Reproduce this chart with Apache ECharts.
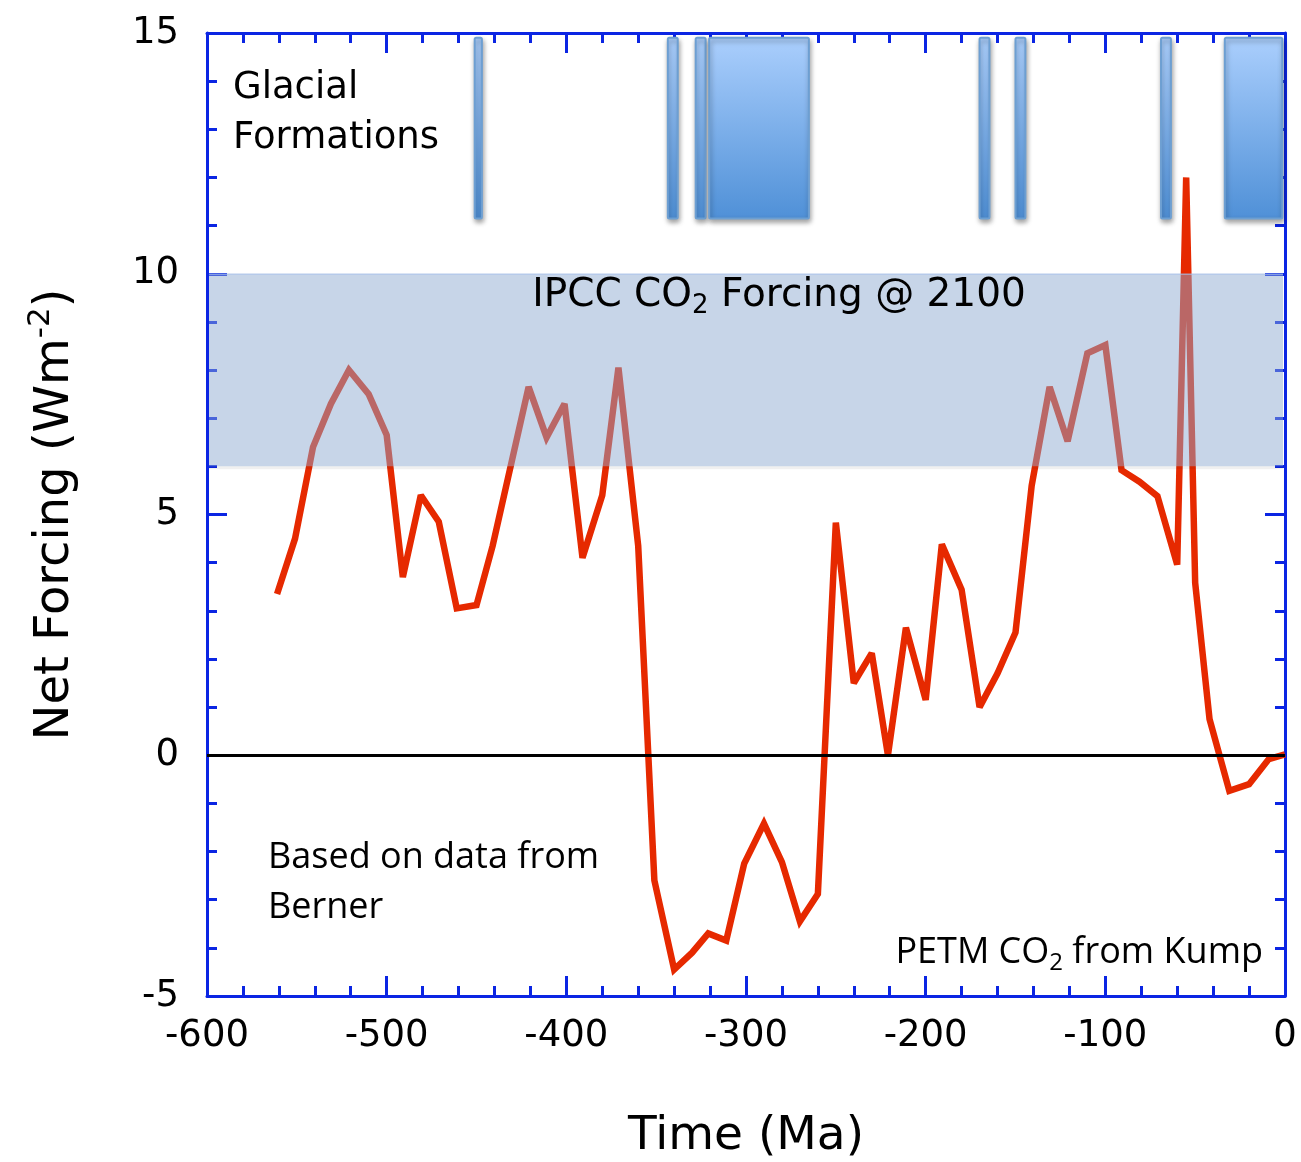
<!DOCTYPE html>
<html>
<head>
<meta charset="utf-8">
<title>Net Forcing over the Phanerozoic</title>
<script src="https://cdn.jsdelivr.net/npm/echarts@6/dist/echarts.min.js"></script>
<style>
  html, body { margin: 0; padding: 0; background: #ffffff; }
  #chart { width: 1301px; height: 1162px; }
</style>
</head>
<body>
<div id="chart"></div>
<script>
// Time in Ma (negative = before present)
var timeMa = [
  -561, -551, -541, -531, -521, -510, -500, -491, -481, -471, -461, -450, -441,
  -421, -411, -401, -391, -380, -371, -360, -351, -340, -330, -321, -311, -301,
  -290, -280, -270, -260, -250, -240, -230, -221, -211, -200, -191, -180, -170,
  -160, -150, -141, -131, -121, -110, -100, -91, -81, -71, -60, -55, -50, -42,
  -31, -20, -9, 0
];
// Net forcing in W m^-2
var netForcing = [
  3.35, 4.5, 6.4, 7.3, 8.0, 7.5, 6.65, 3.7, 5.4, 4.85, 3.05, 3.12, 4.35,
  7.65, 6.6, 7.3, 4.1, 5.4, 8.05, 4.35, -2.6, -4.45, -4.1, -3.7, -3.85, -2.25,
  -1.42, -2.22, -3.45, -2.88, 4.83, 1.5, 2.12, 0.0, 2.65, 1.15, 4.38, 3.44, 1.0,
  1.7, 2.55, 5.6, 7.65, 6.52, 8.35, 8.52, 5.92, 5.68, 5.38, 3.96, 12.0, 3.58, 0.75,
  -0.74, -0.6, -0.08, 0.02
];
// Glacial intervals: start and end (Ma)
var glacialStart = [-451, -343.5, -328, -320.5, -170, -150, -69, -33.5];
var glacialEnd   = [-447, -338, -322.5, -265, -164.5, -144.5, -63.5, -1.5];
// Vertical extent of the glacial bars (axis units)
var glacialBottom = 11.15;
var glacialTop = 14.9;
// IPCC CO2 forcing range at 2100 (W m^-2)
var ipccLow = 6;
var ipccHigh = 10;
// Axis ranges
var xMin = -600, xMax = 0, xStep = 100;
var yMin = -5, yMax = 15, yStep = 5;

var AXIS_BLUE = '#0b25e3';
var LINE_RED = '#e62900';
var SANS = 'DejaVu Sans, Liberation Sans, sans-serif';
var NOTE = 'Open Sans, Noto Sans, sans-serif';

var chart = echarts.init(document.getElementById('chart'), null, { renderer: 'canvas' });

var forcingData = timeMa.map(function (t, i) { return [t, netForcing[i]]; });
var glacialData = glacialStart.map(function (s, i) {
  return [s, glacialEnd[i], glacialBottom, glacialTop];
});

function frameAxis(position, isX, showLabel) {
  return {
    type: 'value',
    position: position,
    min: isX ? xMin : yMin,
    max: isX ? xMax : yMax,
    interval: isX ? xStep : yStep,
    axisLine: { show: true, onZero: false, lineStyle: { color: AXIS_BLUE, width: 3 } },
    axisTick: { show: true, inside: true, length: 20, lineStyle: { color: AXIS_BLUE, width: 3 } },
    minorTick: { show: true, splitNumber: 5, length: 10, lineStyle: { color: AXIS_BLUE, width: 3 } },
    splitLine: { show: false },
    minorSplitLine: { show: false },
    axisLabel: {
      show: showLabel,
      color: '#000000',
      fontFamily: SANS,
      fontSize: 37,
      margin: isX ? 22 : 28
    }
  };
}

var xBottom = frameAxis('bottom', true, true);
xBottom.name = 'Time (Ma)';
xBottom.nameLocation = 'middle';
xBottom.nameGap = 117;
xBottom.nameTextStyle = { color: '#000000', fontFamily: SANS, fontSize: 47 };
var xTop = frameAxis('top', true, false);

var yLeft = frameAxis('left', false, true);
yLeft.name = '{a|Net Forcing (Wm}{s|-2}{a|)}';
yLeft.nameLocation = 'middle';
yLeft.nameGap = 120;
yLeft.nameTextStyle = {
  color: '#000000',
  rich: {
    a: { fontFamily: SANS, fontSize: 48, lineHeight: 62, color: '#000' },
    s: { fontFamily: SANS, fontSize: 31, verticalAlign: 'top', lineHeight: 62, color: '#000' }
  }
};
var yRight = frameAxis('right', false, false);

var option = {
  backgroundColor: '#ffffff',
  animation: false,
  grid: { left: 207, right: 16, top: 33, bottom: 166, containLabel: false, outerBoundsMode: 'none' },
  xAxis: [xBottom, xTop],
  yAxis: [yLeft, yRight],
  series: [
    {
      name: 'Glacial Formations',
      type: 'custom',
      xAxisIndex: 0,
      yAxisIndex: 0,
      z: 1,
      encode: { x: [0, 1], y: [2, 3] },
      data: glacialData,
      renderItem: function (params, api) {
        var p0 = api.coord([api.value(0), api.value(3)]);
        var p1 = api.coord([api.value(1), api.value(2)]);
        return {
          type: 'rect',
          shape: { x: p0[0], y: p0[1], width: p1[0] - p0[0], height: p1[1] - p0[1], r: 1.5 },
          style: {
            fill: new echarts.graphic.LinearGradient(0, 0, 0, 1, [
              { offset: 0, color: '#abcffd' },
              { offset: 1, color: '#4f90d7' }
            ]),
            stroke: '#6d9fd2',
            lineWidth: 2,
            shadowBlur: 5,
            shadowOffsetX: 1,
            shadowOffsetY: 3,
            shadowColor: 'rgba(0,0,0,0.35)'
          }
        };
      }
    },
    {
      name: 'Net Forcing',
      type: 'line',
      xAxisIndex: 0,
      yAxisIndex: 0,
      z: 2,
      data: forcingData,
      showSymbol: false,
      symbol: 'none',
      lineStyle: { color: LINE_RED, width: 6.5, join: 'miter', miterLimit: 2.5 },
      markLine: {
        silent: true,
        symbol: 'none',
        label: { show: false },
        lineStyle: { color: '#000000', width: 3, type: 'solid' },
        data: [{ yAxis: 0 }]
      }
    },
    {
      name: 'IPCC CO2 Forcing @ 2100',
      type: 'custom',
      xAxisIndex: 0,
      yAxisIndex: 0,
      z: 3,
      encode: { x: [0, 1], y: [2, 3] },
      data: [[xMin, xMax, ipccLow, ipccHigh]],
      renderItem: function (params, api) {
        var p0 = api.coord([api.value(0), api.value(3)]);
        var p1 = api.coord([api.value(1), api.value(2)]);
        var x = p0[0] + 2, w = p1[0] - p0[0] - 4;
        return {
          type: 'group',
          children: [
            {
              type: 'rect',
              shape: { x: x, y: p0[1], width: w, height: p1[1] - p0[1] },
              style: { fill: 'rgba(141,169,208,0.49)' }
            },
            {
              type: 'line',
              shape: { x1: x, y1: p1[1] + 1.5, x2: x + w, y2: p1[1] + 1.5 },
              style: { stroke: 'rgba(0,0,0,0.06)', lineWidth: 3 }
            },
            {
              type: 'line',
              shape: { x1: x, y1: p0[1] + 0.5, x2: x + w, y2: p0[1] + 0.5 },
              style: { stroke: 'rgba(170,195,235,0.6)', lineWidth: 1.5 }
            }
          ]
        };
      }
    }
  ],
  graphic: [
    {
      type: 'text',
      left: 233,
      top: 63,
      z: 10,
      style: {
        text: 'Glacial\nFormations',
        fill: '#000000',
        font: '37px "DejaVu Sans", sans-serif',
        lineHeight: 50
      }
    },
    {
      type: 'text',
      x: 779,
      y: 296,
      z: 10,
      style: {
        text: '{a|IPCC CO}{b|2}{a| Forcing @ 2100}',
        align: 'center',
        verticalAlign: 'middle',
        fill: '#000000',
        rich: {
          a: { fontFamily: SANS, fontSize: 39, lineHeight: 46, fill: '#000' },
          b: { fontFamily: SANS, fontSize: 26, verticalAlign: 'bottom', lineHeight: 46, fill: '#000' }
        }
      }
    },
    {
      type: 'text',
      left: 268,
      top: 833,
      z: 10,
      style: {
        text: 'Based on data from\nBerner',
        fill: '#000000',
        font: '36px "Open Sans", sans-serif',
        lineHeight: 50
      }
    },
    {
      type: 'text',
      x: 1263,
      y: 953,
      z: 10,
      style: {
        text: '{a|PETM CO}{b|2}{a| from Kump}',
        align: 'right',
        verticalAlign: 'middle',
        fill: '#000000',
        rich: {
          a: { fontFamily: NOTE, fontSize: 36, lineHeight: 44, fill: '#000' },
          b: { fontFamily: NOTE, fontSize: 24, verticalAlign: 'bottom', lineHeight: 44, fill: '#000' }
        }
      }
    }
  ]
};

chart.setOption(option);
</script>
</body>
</html>
